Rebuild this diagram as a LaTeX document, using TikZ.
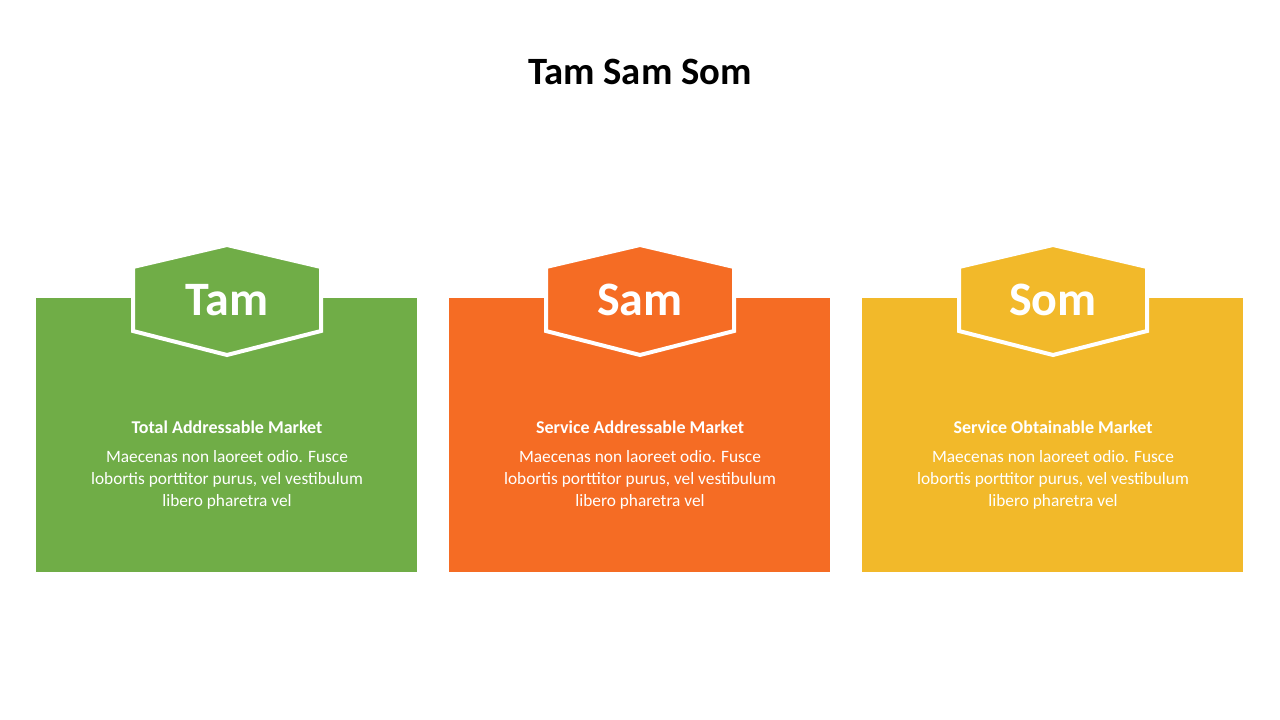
\documentclass[tikz,border=0pt]{standalone}
\usepackage{fontspec}
\setmainfont{Carlito}
\definecolor{cg}{HTML}{70AD47}
\definecolor{co}{HTML}{F56C24}
\definecolor{cy}{HTML}{F2B92A}
\begin{document}
\begin{tikzpicture}[x=0.75pt,y=-0.75pt,
  panel/.style={inner sep=0},
  hexa/.style={draw=white,line width=3pt,line join=miter},
  txt/.style={text=white,align=center,font=\fontsize{13}{16}\selectfont}]
\fill[white] (0,0) rectangle (1280,720);
\node (title) at (640,72) {\fontsize{29}{34}\selectfont\bfseries Tam Sam Som};
\foreach \c/\x/\big/\sub [count=\i] in {cg/227/Tam/Total Addressable Market, co/640/Sam/Service Addressable Market, cy/1053/Som/Service Obtainable Market}{
  \fill[\c] (\x-191,298) rectangle (\x+190,572);
  \filldraw[hexa,fill=\c] (\x,245) -- (\x-94,267) -- (\x-94,331) -- (\x,355) -- (\x+94,331) -- (\x+94,267) -- cycle;
  \node[text=white,font=\fontsize{36}{40}\selectfont\bfseries] (h\i) at (\x,300) {\big};
  \node[txt,font=\fontsize{13.5}{16}\selectfont\bfseries] (s\i) at (\x,427) {\sub};
  \node[txt,font=\fontsize{13}{16.5}\selectfont] (b\i) at (\x,480) {Maecenas non laoreet odio. Fusce\\lobortis porttitor purus, vel vestibulum\\libero pharetra vel};
}
\end{tikzpicture}
\end{document}
